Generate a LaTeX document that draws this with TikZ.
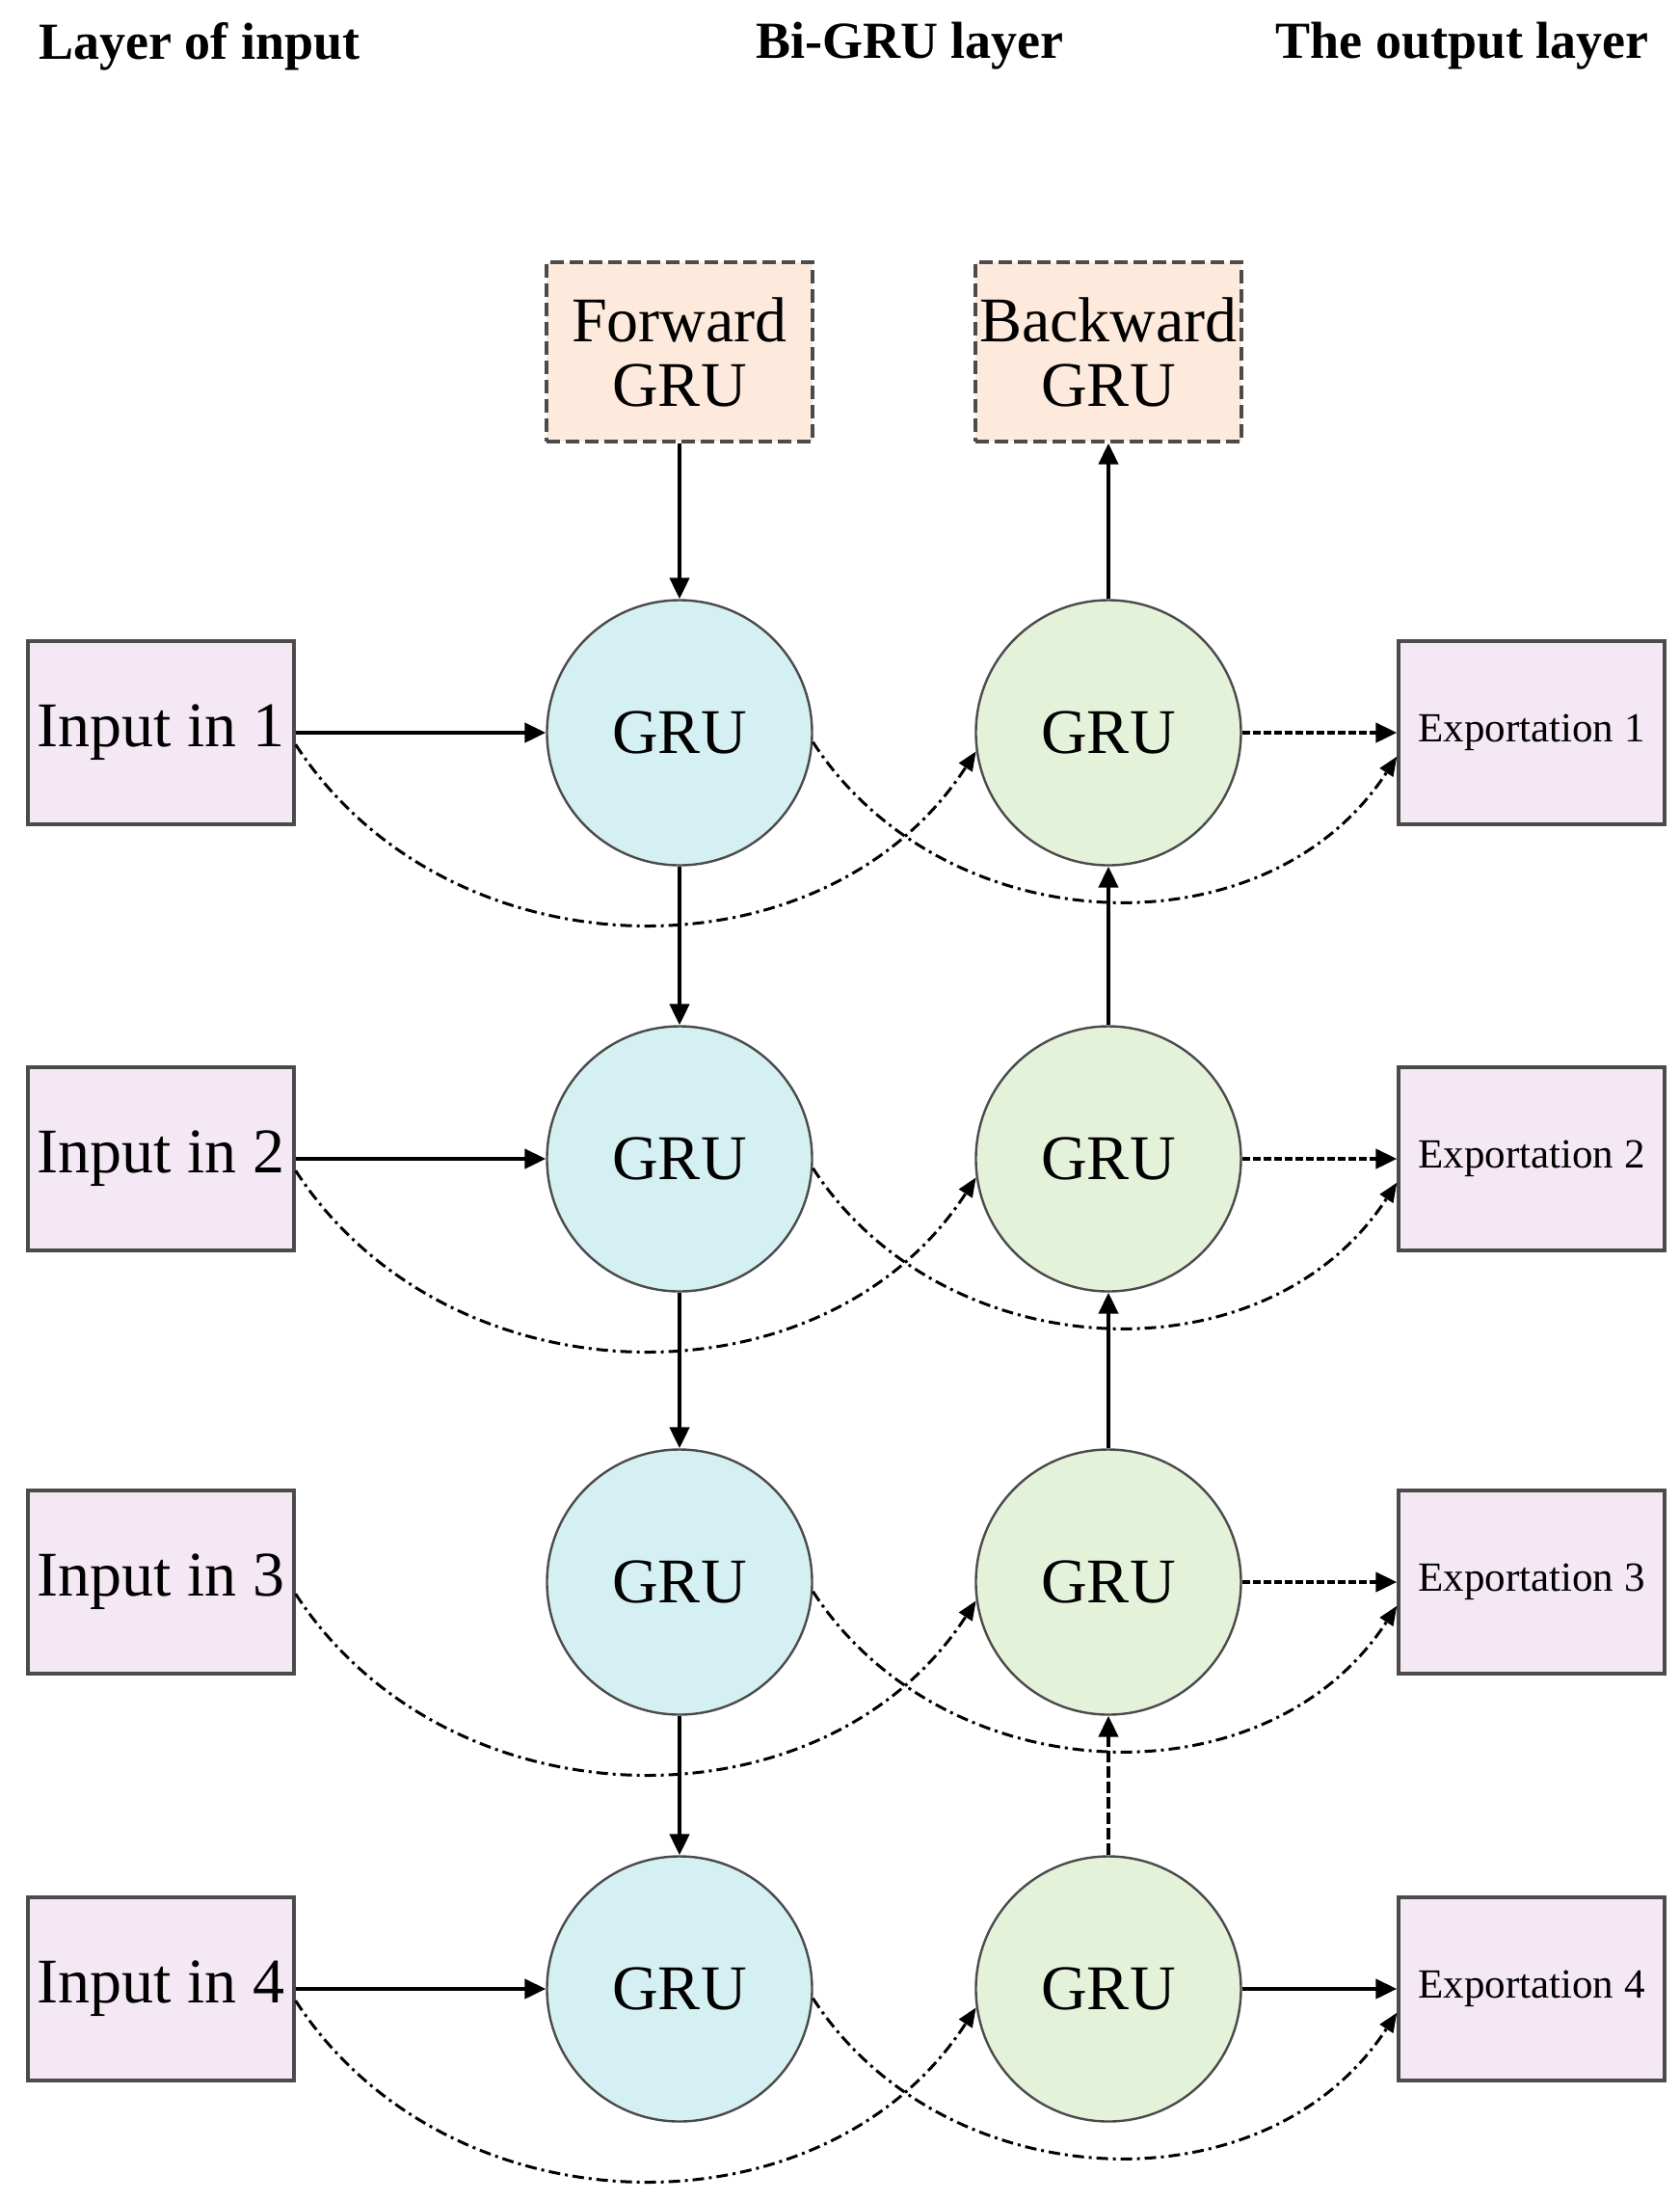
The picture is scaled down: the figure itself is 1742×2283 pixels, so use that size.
\documentclass[tikz,border=0pt]{standalone}
\usepackage{fontspec}
\setmainfont{Liberation Serif}
\usetikzlibrary{arrows.meta}
\definecolor{iobox}{RGB}{243,232,243}
\definecolor{fwfill}{RGB}{213,240,243}
\definecolor{bwfill}{RGB}{229,242,218}
\definecolor{peach}{RGB}{253,234,220}
\definecolor{edge}{RGB}{75,75,75}
\begin{document}
\begin{tikzpicture}[x=0.5pt,y=0.5pt,
  title/.style={font=\bfseries\fontsize{27pt}{28pt}\selectfont, inner sep=0pt},
  iobx/.style={rectangle, draw=edge, line width=1.7pt, fill=iobox, minimum width=138pt, minimum height=95pt, inner sep=0pt},
  inbx/.style={iobx, font=\fontsize{33pt}{34pt}\selectfont},
  exbx/.style={iobx, font=\fontsize{21.5pt}{22pt}\selectfont},
  gru/.style={circle, draw=edge, line width=1.2pt, minimum size=137.5pt, inner sep=0pt, font=\fontsize{33pt}{34pt}\selectfont},
  fwc/.style={gru, fill=fwfill},
  bwc/.style={gru, fill=bwfill},
  dirbx/.style={rectangle, draw=edge, line width=1.7pt, dash pattern=on 7pt off 3pt, fill=peach, minimum width=138pt, minimum height=93pt, inner sep=0pt, align=center, font=\fontsize{33pt}{33.5pt}\selectfont},
  arr/.style={line width=2.2pt, -{Triangle[length=11pt,width=10pt]}},
  darr/.style={arr, dash pattern=on 4pt off 1.5pt},
  vdarr/.style={arr, dash pattern=on 6pt off 2pt},
  cur/.style={line width=1.5pt, dash pattern=on 6pt off 2.5pt on 1.5pt off 2.5pt, -{Triangle[length=10pt,width=8pt]}}
]
\useasboundingbox (0,0) rectangle (1742,-2283);

\node[title] (t1) at (207,-48) {Layer of input};
\node[title] (t2) at (944,-48) {Bi-GRU layer};
\node[title] (t3) at (1517,-48) {The output layer};

\node[dirbx] (fb) at (705,-365) {Forward\\GRU};
\node[dirbx] (bb) at (1150,-365) {Backward\\GRU};

\foreach \r/\y in {1/-760,2/-1202,3/-1641,4/-2063}{
  \node[inbx] (in\r) at (167,\y) {Input in \r};
  \node[fwc] (fw\r) at (705,\y) {GRU};
  \node[bwc] (bw\r) at (1150,\y) {GRU};
  \node[exbx] (ex\r) at (1589,\y) {Exportation \r};
}

% forward chain
\draw[arr] (fb.south) -- (fw1.north);
\draw[arr] (fw1.south) -- (fw2.north);
\draw[arr] (fw2.south) -- (fw3.north);
\draw[arr] (fw3.south) -- (fw4.north);

% backward chain
\draw[arr] (bw1.north) -- (bb.south);
\draw[arr] (bw2.north) -- (bw1.south);
\draw[arr] (bw3.north) -- (bw2.south);
\draw[vdarr] (bw4.north) -- (bw3.south);

% inputs to forward GRU
\draw[arr] (in1.east) -- (fw1.west);
\draw[arr] (in2.east) -- (fw2.west);
\draw[arr] (in4.east) -- (fw4.west);

% backward GRU to outputs
\draw[darr] (bw1.east) -- (ex1.west);
\draw[darr] (bw2.east) -- (ex2.west);
\draw[darr] (bw3.east) -- (ex3.west);
\draw[arr] (bw4.east) -- (ex4.west);

% skip curves
\foreach \r in {1,2,3,4}{
  \draw[cur] (in\r.-5) to[out=-57,in=-123,looseness=1.05] (bw\r.188);
  \draw[cur] (fw\r.-4) to[out=-57,in=-123,looseness=1.05] (ex\r.190);
}
\end{tikzpicture}
\end{document}
